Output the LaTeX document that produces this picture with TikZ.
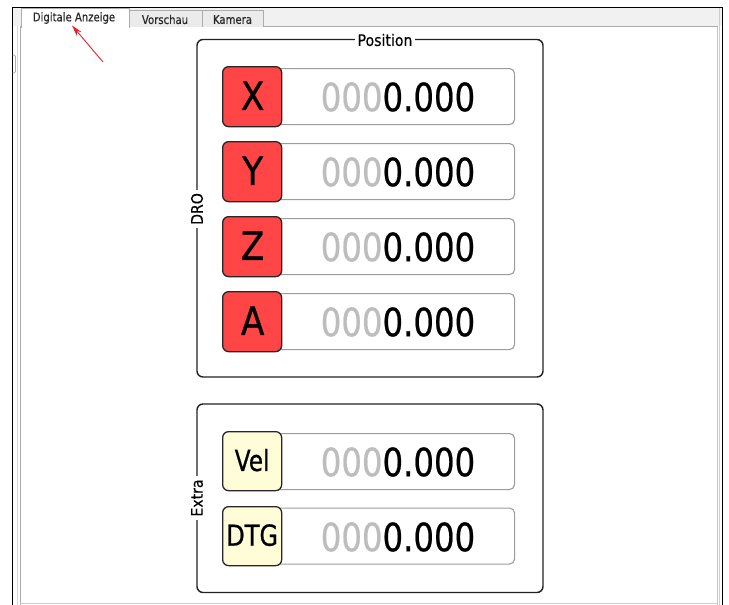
\documentclass[tikz,border=0pt]{standalone}
\usepackage{fontspec}
\setmainfont{DejaVu Sans}
\newfontfamily\heavier[FakeBold=0.7]{DejaVu Sans}
\newfontfamily\slightheavy[FakeBold=0.3]{DejaVu Sans}
\usepackage{graphicx}
\usetikzlibrary{arrows.meta}
\definecolor{lblred}{HTML}{FF4545}
\definecolor{lblyel}{HTML}{FFFDD8}
\definecolor{digitgray}{HTML}{BDBDBD}
\definecolor{fieldline}{HTML}{9C9C9C}
\definecolor{tabline}{HTML}{ACACAC}
\definecolor{tabfill}{HTML}{EBEBEB}
\definecolor{barfill}{HTML}{F1F1F1}
\definecolor{arrowred}{HTML}{E8202A}
\definecolor{grpline}{HTML}{222222}
\newcommand\cz[2][0.8]{\scalebox{#1}[1]{#2}}
\newcommand\dro{\cz[0.83]{\textcolor{digitgray}{000}0.000}}
\begin{document}
\begin{tikzpicture}[x=1pt,y=-1pt,
  field/.style={draw=fieldline,line width=1.1pt,rounded corners=5pt,fill=white,
    minimum width=292pt,minimum height=56pt,inner sep=0pt,anchor=north west},
  axislbl/.style={draw=black!85,line width=1.3pt,rounded corners=6pt,fill=lblred,
    minimum width=59pt,minimum height=60pt,inner sep=0pt,anchor=north west},
  extralbl/.style={axislbl,fill=lblyel,minimum height=59pt},
  bigtxt/.style={inner sep=0pt,font=\heavier\fontsize{39}{39}\selectfont},
  midtxt/.style={inner sep=0pt,font=\heavier\fontsize{29}{29}\selectfont},
  grp/.style={draw=grpline,line width=1.4pt,rounded corners=6pt},
  grptitle/.style={fill=white,inner sep=3pt,font=\slightheavy\fontsize{16}{16}\selectfont},
  tabtxt/.style={inner sep=0pt,font=\slightheavy\fontsize{12}{12}\selectfont,text=black!85},
  tabshape/.style={draw=tabline,line width=0.8pt}
]
\useasboundingbox (0,0) rectangle (729,605);
\fill[white] (0,0) rectangle (729,605);
% window frame
\fill[barfill] (13,8) rectangle (722,26);
\fill[white] (13,26) rectangle (20,605);
\fill[white] (20,26) rectangle (718,605);
\draw[tabline,line width=0.8pt] (20,605) -- (20,26.5) -- (21,26.5);
\draw[tabline,line width=0.8pt] (129,26.5) -- (718,26.5);
\draw[tabline!70,line width=1pt] (717,26.5) -- (717,605);
\draw[tabline!60,line width=0.8pt] (719.8,8) -- (719.8,605);
\draw[tabline!60,line width=0.8pt] (20,603) -- (718,603);
\draw[tabline!50,line width=0.8pt] (17.5,26) -- (17.5,605);
\draw[black,line width=1.3pt] (12.3,605) -- (12.3,7.2) -- (722.5,7.2) -- (722.5,605);
\draw[tabline,line width=0.8pt,rounded corners=1.5pt] (12.5,55) -- (15.5,55) -- (15.5,73) -- (12.5,73);
% tabs
\filldraw[tabshape,fill=tabfill] (129,26.5) -- (129,10.5) -- (202,10.5) -- (202,26.5);
\filldraw[tabshape,fill=tabfill] (202,26.5) -- (202,10.5) -- (263,10.5) -- (263,26.5);
\filldraw[tabshape,fill=white] (21,27.5) -- (21,8.5) -- (129,8.5) -- (129,27.5);
\fill[white] (21.5,25) rectangle (128.5,28);
\node[tabtxt] (tab1) at (74,18) {\cz[0.84]{Digitale Anzeige}};
\node[tabtxt] (tab2) at (165,19.5) {\cz[0.84]{Vorschau}};
\node[tabtxt] (tab3) at (232.5,19.5) {\cz[0.84]{Kamera}};
% arrow
\coordinate (arrtail) at (103,62);
\coordinate (arrtip) at (72,25.5);
\draw[arrowred,line width=0.9pt,-{Stealth[length=11pt,width=6pt]}] (arrtail) -- (arrtip);
% Position group
\draw[grp] (197,39.5) rectangle (543,377);
\node[grptitle] (postitle) at (385,40) {\cz[0.88]{Position}};
\node[grptitle,rotate=90] (drotitle) at (197,209) {\cz[0.88]{DRO}};
% rows
\foreach \nm/\lt/\ty in {x/X/66,y/Y/141,z/Z/216,a/A/291}{
  \node[field] (\nm f) at (222,\ty+2) {};
  \node[axislbl] (\nm l) at (222,\ty) {};
  \node[bigtxt] (\nm t) at ([xshift=0.5pt,yshift=1pt]\nm l.center) {\cz[0.88]{\lt}};
  \node[bigtxt] (\nm v) at (398,\ty+31) {\dro};
}
% Extra group
\draw[grp] (197,404) rectangle (543,592.5);
\node[grptitle,rotate=90] (extitle) at (197,498) {\cz[0.88]{Extra}};
\node[field] (velf) at (222,433) {};
\node[extralbl] (vell) at (222,431) {};
\node[midtxt] (velt) at ([yshift=1pt]vell.center) {\cz{Vel}};
\node[bigtxt] (velv) at (398,462) {\dro};
\node[field] (dtgf) at (222,507.5) {};
\node[extralbl] (dtgl) at (222,506) {};
\node[midtxt] (dtgt) at ([yshift=1pt]dtgl.center) {\cz[0.83]{DTG}};
\node[bigtxt] (dtgv) at (398,537) {\dro};
\end{tikzpicture}
\end{document}
